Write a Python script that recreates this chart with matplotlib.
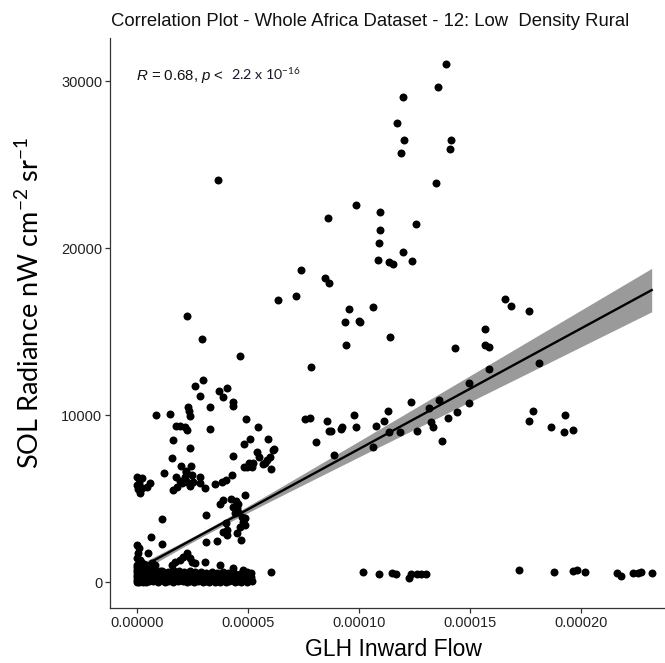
import matplotlib
matplotlib.use("Agg")
import matplotlib.pyplot as plt
import numpy as np

# ---------------- data (x in units of 1e-5) ----------------
# scattered points (upper / middle / right part of the chart)
upper_x_e5 = [13.92, 13.57, 12.00, 11.73, 12.03, 14.16, 11.89, 14.09, 13.45, 9.86,
              8.59, 10.95, 12.55, 10.95, 10.90, 10.84, 11.98, 11.34, 11.55, 12.39,
              7.40, 8.48, 8.66, 7.15, 6.35, 9.55, 10.64, 9.38, 9.99, 10.05,
              11.41, 9.41, 14.31, 7.82, 7.55, 7.81, 8.55, 8.64, 8.73, 9.76,
              9.23, 9.19, 9.85, 8.05, 10.63, 10.75, 11.32, 11.14, 11.36, 11.86,
              12.34, 12.60, 13.14, 13.59, 13.23, 13.33, 13.74, 14.02, 14.41, 14.97,
              14.95, 15.87, 16.59, 16.83, 17.66, 15.66, 15.66, 15.86, 18.09, 17.82,
              17.64, 19.29, 18.65, 19.22, 19.65, 8.87]
upper_y = [31000, 29630, 29050, 27480, 26480, 26480, 25700, 25920, 23900, 22560,
           21790, 22160, 21440, 21080, 20320, 19290, 19750, 19170, 19030, 19250,
           18670, 18210, 17890, 17130, 16890, 16350, 16470, 15590, 15630, 15590,
           14660, 14180, 14000, 12880, 9760, 9840, 9640, 9060, 9060, 10000,
           9270, 9180, 9300, 8370, 8070, 9360, 10260, 9660, 8985, 8985,
           10780, 9060, 10400, 10880, 9580, 9270, 8460, 9810, 10180, 11900,
           10740, 12780, 16950, 16550, 16230, 15170, 14180, 14060, 13100, 10260,
           9660, 10000, 9280, 8985, 9100, 7610]

# points close to zero radiance at larger inflow values
low_x_e5 = [17.19, 18.78, 19.65, 19.81, 20.19, 21.64, 21.80, 22.36, 22.58, 22.70,
            23.18, 10.19, 10.90, 11.47, 11.67, 12.27, 12.36, 12.60, 12.81, 13.02,
            6.02]
low_y = [720, 620, 680, 720, 580, 520, 380, 520, 560, 600,
         520, 580, 480, 560, 480, 260, 460, 480, 480, 480,
         600]

# left cluster (x < 0.00007)
left_x_e5 = [3.64, 2.24, 2.91, 4.64, 2.99, 2.63, 2.82, 3.69, 3.87, 4.05,
             2.30, 2.36, 2.37, 3.30, 4.32, 4.34, 0.84, 1.47, 1.74, 1.94,
             2.16, 2.24, 3.29, 4.90, 5.45, 1.62, 2.40, 4.81, 5.10, 5.90,
             4.34, 1.56, 2.00, 2.43, 2.22, 5.03, 4.94, 5.39, 5.51, 5.66,
             5.84, 6.11, 5.99, 5.78, 6.05, 6.18, 5.24, 5.17, 4.83,
             0.00, 0.21, 0.10, 0.12, 0.21, 0.44, 0.59, 0.05, 0.02, 1.20,
             1.77, 1.94, 2.21, 2.16, 2.27, 2.54, 2.84, 2.84, 1.64, 1.79,
             2.01, 3.08, 3.53, 3.82, 4.01, 4.29, 4.88, 2.46, 2.39,
             3.74, 3.89, 4.23, 4.46, 4.34, 4.56, 1.14, 3.12, 4.41, 4.56,
             4.72, 4.79, 4.64, 4.86, 4.00, 4.07, 4.04, 4.68, 0.62, 1.13,
             3.11, 3.59, 4.49, 4.86, 4.49, 3.89,
             0.09, 0.05, 0.48, 0.02, 0.02, 0.18, 2.24, 2.09, 2.39, 1.94,
             1.71, 2.61, 2.46, 1.56, 3.06, 3.74, 0.66, 0.81, 4.34, 4.79,
             4.94, 5.12]
left_y = [24060, 15950, 14560, 13540, 12100, 11760, 11160, 11420, 11080, 11620,
          10460, 10240, 9940, 10460, 10800, 10540, 10000, 10060, 9340, 9330,
          9300, 9100, 9180, 9780, 9300, 8490, 8010, 8280, 8550, 8580,
          7570, 7430, 6970, 6970, 6590, 7150, 6910, 7800, 7510, 7070,
          7310, 7910, 7510, 7110, 6750, 7950, 7150, 6870, 6870,
          6270, 6230, 5910, 5310, 5610, 5710, 5910, 5570, 5810, 6530,
          6310, 6050, 6630, 6310, 6010, 6010, 6310, 5950, 5510, 5710,
          5950, 5650, 5870, 6010, 6110, 6410, 5210, 6410, 5750,
          4670, 4910, 4950, 4830, 4510, 4670, 3790, 4010, 4110, 4210,
          3910, 3610, 3310, 3410, 3520, 3110, 2820, 2520, 2700, 2260,
          2380, 2460, 4410, 3820, 2920, 3010,
          2020, 1720, 1720, 2220, 1440, 1200, 1720, 1520, 1420, 1320,
          1220, 1120, 1220, 1020, 1220, 1020, 1120, 1020, 820, 720,
          620, 560]

# dense band of near-zero radiance points
band_x_e5 = [0.00, 0.00, 0.00, 0.00, 0.00, 0.00, 0.00, 0.00, 0.03, 0.03,
             0.03, 0.03, 0.05, 0.05, 0.05, 0.08, 0.08, 0.10, 0.10, 0.12,
             0.15, 0.15, 0.20, 0.20, 0.25, 0.25, 0.30, 0.30, 0.35, 0.40,
             0.40, 0.45, 0.50, 0.55, 0.60, 0.65, 0.70, 0.75, 0.80, 0.85,
             0.90, 0.95, 1.00, 1.05, 1.10, 1.15, 1.20, 1.25, 1.30, 1.35,
             1.40, 1.45, 1.50, 1.55, 1.60, 1.65, 1.70, 1.75, 1.80, 1.85,
             1.90, 1.95, 2.00, 2.05, 2.10, 2.15, 2.20, 2.25, 2.30, 2.35,
             2.40, 2.45, 2.50, 2.55, 2.60, 2.65, 2.70, 2.75, 2.80, 2.85,
             2.90, 2.95, 3.00, 3.05, 3.10, 3.15, 3.20, 3.25, 3.30, 3.35,
             3.40, 3.45, 3.50, 3.55, 3.60, 3.65, 3.70, 3.75, 3.80, 3.85,
             3.90, 3.95, 4.00, 4.05, 4.10, 4.15, 4.20, 4.25, 4.30, 4.35,
             4.40, 4.45, 4.50, 4.55, 4.60, 4.65, 4.70, 4.75, 4.80, 4.85,
             4.90, 4.95, 5.00, 5.05, 5.10, 5.15, 5.20,
             0.18, 0.28, 0.38, 0.62, 0.88, 1.12, 1.38, 1.62, 1.88, 2.12,
             2.38, 2.62, 2.88, 3.12, 3.38, 3.62, 3.88, 4.12, 4.38, 4.62,
             4.88, 5.05, 0.12, 0.22, 0.33]
band_y = [0, 150, 300, 450, 600, 750, 900, 1050, 50, 250,
          400, 700, 100, 550, 850, 20, 350, 150, 650, 480,
          60, 900, 200, 780, 30, 400, 120, 650, 300, 10,
          820, 180, 500, 80, 350, 700, 40, 250, 560, 120,
          430, 20, 300, 650, 100, 420, 200, 30, 560, 250,
          90, 380, 150, 600, 20, 300, 100, 480, 200, 50,
          350, 150, 520, 60, 280, 100, 420, 20, 200, 330,
          80, 450, 150, 30, 280, 120, 400, 50, 220, 100,
          350, 20, 180, 300, 70, 420, 150, 20, 250, 500,
          100, 350, 30, 200, 450, 80, 300, 20, 180, 400,
          100, 250, 30, 350, 150, 50, 280, 500, 100, 300,
          20, 200, 420, 80, 300, 150, 30, 450, 250, 100,
          350, 30, 200, 500, 120, 300, 50,
          620, 560, 700, 640, 600, 680, 620, 700, 640, 600,
          660, 580, 620, 560, 600, 540, 580, 520, 560, 500,
          540, 450, 1300, 950, 1100]

# linear fit
fit_intercept = 750.0
fit_slope_e5 = 722.0
ci_center_e5 = 3.0
ci_min = 150.0
ci_growth_e5 = 64.0

x_ticks = [0.0, 5e-5, 1e-4, 1.5e-4, 2e-4]
x_tick_labels = ["0.00000", "0.00005", "0.00010", "0.00015", "0.00020"]
y_ticks = [0, 10000, 20000, 30000]
y_tick_labels = ["0", "10000", "20000", "30000"]

# ---------------- plotting ----------------
plt.rcParams["mathtext.fontset"] = "custom"
plt.rcParams["mathtext.rm"] = "Lato"
plt.rcParams["mathtext.it"] = "Liberation Sans:italic"

all_x = np.array(upper_x_e5 + low_x_e5 + left_x_e5 + band_x_e5) * 1e-5
all_y = np.array(upper_y + low_y + left_y + band_y, dtype=float)

fig = plt.figure(figsize=(6.65, 6.63), dpi=100)
ax = fig.add_axes([110 / 665, 1 - 608 / 663, 565 / 665, 570 / 663])

xs_e5 = np.linspace(0.0, max(all_x) * 1e5, 200)
fit = fit_intercept + fit_slope_e5 * xs_e5
half = np.sqrt(ci_min ** 2 + (ci_growth_e5 * (xs_e5 - ci_center_e5)) ** 2)
ax.fill_between(xs_e5 * 1e-5, fit - half, fit + half, color="#9a9a9a", lw=0, zorder=1)
ax.scatter(all_x, all_y, s=33, color="black", linewidths=0, zorder=2)
ax.plot(xs_e5 * 1e-5, fit, color="black", lw=1.7, zorder=3)

ax.set_xlim(-1.216e-5, 2.423e-4)
ax.set_ylim(-1550, 32580)
ax.set_xticks(x_ticks)
ax.set_xticklabels(x_tick_labels)
ax.set_yticks(y_ticks)
ax.set_yticklabels(y_tick_labels)

for s in ["top", "right"]:
    ax.spines[s].set_visible(False)
for s in ["left", "bottom"]:
    ax.spines[s].set_color("#333333")
    ax.spines[s].set_linewidth(0.9)
ax.tick_params(direction="out", length=3.5, width=0.9, color="#333333",
               labelsize=10.5, labelcolor="#222222", pad=2)
for lab in ax.get_xticklabels() + ax.get_yticklabels():
    lab.set_family("Liberation Sans")

ax.set_xlabel("GLH Inward Flow", fontsize=16.5, family="Liberation Sans")
ax.xaxis.label.set_verticalalignment("center")
ax.xaxis.set_label_coords((393 - 110) / 565, -(649 - 608) / 570)
ax.set_ylabel("SOL Radiance nW cm$^{-2}$ sr$^{-1}$", fontsize=19.5, family="Lato")
ax.yaxis.label.set_verticalalignment("center")
ax.yaxis.set_label_coords(-(110 - 30) / 565, (608 - 303) / 570)

fig.text(111 / 665, 1 - 22 / 663, "Correlation Plot - Whole Africa Dataset - 12: Low  Density Rural",
         fontsize=13.3, family="Liberation Sans", ha="left", va="center", color="#111111")

fig.text(136 / 665, 1 - 80 / 663, r"$\it{R}$ = 0.68, $\it{p}$ <",
         fontsize=10.8, family="Liberation Sans", ha="left", va="baseline", color="#111111")
fig.text(231 / 665, 1 - 80 / 663, r"2.2 x 10$^{\mathrm{-16}}$",
         fontsize=10.3, family="Lato", ha="left", va="baseline", color="#1a1a2a")

fig.savefig("out.png", dpi=100)
